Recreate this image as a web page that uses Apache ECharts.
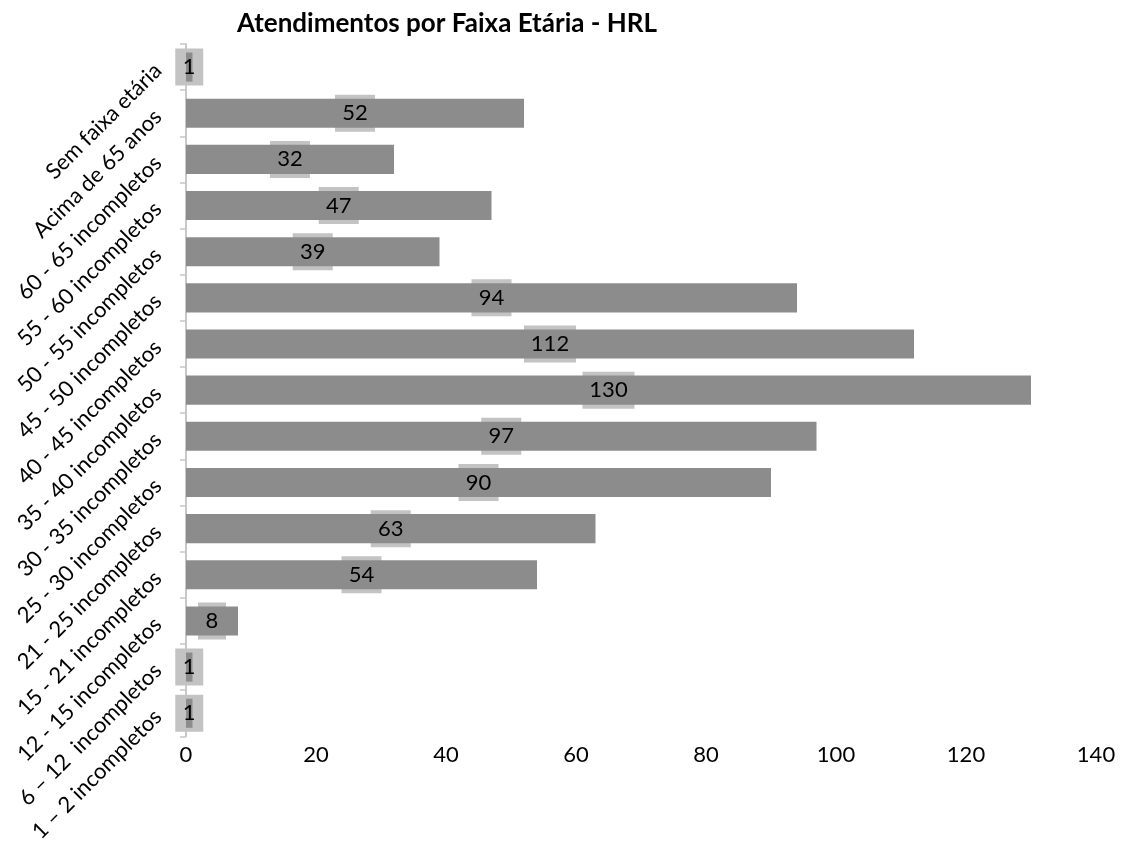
<!DOCTYPE html>
<html>
<head>
<meta charset="utf-8">
<script src="https://cdn.jsdelivr.net/npm/echarts@6/dist/echarts.min.js"></script>
<style>html,body{margin:0;padding:0;background:#fff}#c{width:1122px;height:845px}</style>
</head>
<body>
<div id="c"></div>
<script>
const title = 'Atendimentos por Faixa Etária - HRL';
const categories = [
  'Sem faixa etária',
  'Acima de 65 anos',
  '60 - 65 incompletos',
  '55 - 60 incompletos',
  '50 - 55 incompletos',
  '45 - 50 incompletos',
  '40 - 45 incompletos',
  '35 - 40 incompletos',
  '30 - 35 incompletos',
  '25 - 30 incompletos',
  '21 - 25 incompletos',
  '15 - 21 incompletos',
  '12 - 15 incompletos',
  '6 \u2013 12  incompletos',
  '1 \u2013 2 incompletos'
];
const values = [1, 52, 32, 47, 39, 94, 112, 130, 97, 90, 63, 54, 8, 1, 1];
const xTicks = { min: 0, max: 140, interval: 20 };

const FONT = 'Lato, "Open Sans", sans-serif';
const chart = echarts.init(document.getElementById('c'), null, { renderer: 'canvas' });
chart.setOption({
  animation: false,
  backgroundColor: '#ffffff',
  title: {
    text: title,
    left: 442, top: 6, textAlign: 'center',
    textStyle: { fontFamily: FONT, fontSize: 26, fontWeight: 'bold', color: '#000' }
  },
  grid: { left: 186, right: 26, top: 44, bottom: 105, containLabel: false },
  xAxis: {
    type: 'value', min: xTicks.min, max: xTicks.max, interval: xTicks.interval,
    splitLine: { show: false }, axisLine: { show: false }, axisTick: { show: false },
    axisLabel: { fontFamily: FONT, fontSize: 22, color: '#000', margin: 8 }
  },
  yAxis: {
    type: 'category', data: categories, inverse: true,
    axisLine: { show: true, lineStyle: { color: '#c8c8c8', width: 2 } },
    axisTick: { show: true, length: 6, lineStyle: { color: '#c8c8c8', width: 1.5 } },
    axisLabel: { fontFamily: FONT, fontSize: 22, color: '#000', rotate: 45, margin: 28, interval: 0 }
  },
  series: [
    {
      type: 'scatter',
      z: 1,
      silent: true,
      symbol: 'rect',
      symbolSize: function (val) {
        const d = String(values[categories.indexOf(val[1])]).length;
        return [16 + d * 12, 37];
      },
      itemStyle: { color: '#c3c3c3', opacity: 1 },
      data: values.map((v, i) => [v / 2, categories[i]])
    },
    {
      type: 'bar',
      z: 2,
      data: values,
      barWidth: '63%',
      itemStyle: { color: '#8c8c8c' },
      label: {
        show: true, position: 'inside',
        fontFamily: FONT, fontSize: 22, color: '#000'
      }
    }
  ]
});
</script>
</body>
</html>
